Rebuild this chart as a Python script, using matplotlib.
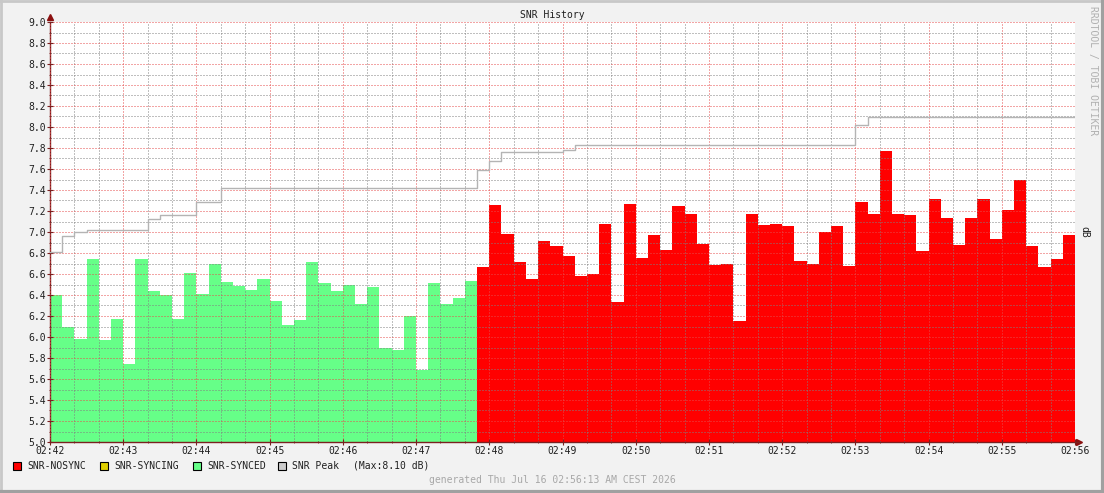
import matplotlib
matplotlib.use("Agg")
import matplotlib.pyplot as plt
import matplotlib.dates as mdates
from matplotlib.patches import Rectangle
from matplotlib.lines import Line2D
import pandas as pd

# SNR samples (10 s steps)
synced_snr = [6.40, 6.10, 5.98, 6.74, 5.97, 6.17, 5.74, 6.74, 6.44, 6.40,
              6.17, 6.61, 6.41, 6.70, 6.52, 6.49, 6.45, 6.55, 6.34, 6.11,
              6.16, 6.71, 6.51, 6.44, 6.50, 6.31, 6.48, 5.90, 5.88, 6.20,
              5.69, 6.51, 6.31, 6.37, 6.53]
nosync_snr = [6.67, 7.26, 6.98, 6.71, 6.55, 6.91, 6.87, 6.77, 6.58, 6.60,
              7.08, 6.33, 7.27, 6.75, 6.97, 6.83, 7.25, 7.17, 6.89, 6.69,
              6.70, 6.15, 7.17, 7.07, 7.08, 7.06, 6.72, 6.70, 7.00, 7.06,
              6.68, 7.29, 7.17, 7.77, 7.17, 7.16, 6.82, 7.31, 7.13, 6.88,
              7.13, 7.31, 6.93, 7.21, 7.50, 6.87, 6.67, 6.74, 6.97]
peak_snr = [6.81, 6.96, 7.00, 7.02, 7.02, 7.02, 7.02, 7.02, 7.12, 7.16,
            7.16, 7.16, 7.29, 7.29, 7.42, 7.42, 7.42, 7.42, 7.42, 7.42,
            7.42, 7.42, 7.42, 7.42, 7.42, 7.42, 7.42, 7.42, 7.42, 7.42,
            7.42, 7.42, 7.42, 7.42, 7.42, 7.59, 7.68, 7.76, 7.76, 7.76,
            7.76, 7.76, 7.78, 7.83, 7.83, 7.83, 7.83, 7.83, 7.83, 7.83,
            7.83, 7.83, 7.83, 7.83, 7.83, 7.83, 7.83, 7.83, 7.83, 7.83,
            7.83, 7.83, 7.83, 7.83, 7.83, 7.83, 8.02, 8.10, 8.10, 8.10,
            8.10, 8.10, 8.10, 8.10, 8.10, 8.10, 8.10, 8.10, 8.10, 8.10,
            8.10, 8.10, 8.10, 8.10]
legend_labels = ["SNR-NOSYNC", "SNR-SYNCING", "SNR-SYNCED", "SNR Peak"]
legend_colors = ["#ff0000", "#e0d000", "#66ff88", "#cccccc"]

start = pd.Timestamp("2026-07-16 02:42:00")
end = pd.Timestamp("2026-07-16 02:56:00")
n_sync = len(synced_snr)
n = n_sync + len(nosync_snr)
times = mdates.date2num(pd.date_range(start, periods=n + 1, freq="10s"))

plt.rcParams['font.family'] = ['DejaVu Sans Mono']
plt.rcParams['font.size'] = 7

fig = plt.figure(figsize=(11.04, 4.93), dpi=100)
fig.patch.set_facecolor('#f2f2f2')
W, H = 1104, 493

# 3d-ish frame like rrdtool
fig.add_artist(Line2D([0, 1], [1 - 1 / H, 1 - 1 / H], color='#c8c8c8', lw=2))
fig.add_artist(Line2D([1 / W, 1 / W], [0, 1], color='#c8c8c8', lw=2))
fig.add_artist(Line2D([0, 1], [1 / H, 1 / H], color='#a0a0a0', lw=3))
fig.add_artist(Line2D([1 - 1 / W, 1 - 1 / W], [0, 1], color='#a0a0a0', lw=3))

ax = fig.add_axes([50 / W, 1 - 442 / H, 1025 / W, 420 / H])
ax.set_facecolor('white')

# stacked-area style like rrdtool AREA
ax.fill_between(times[:n_sync + 1], 5, synced_snr + [synced_snr[-1]], step='post',
                color='#66ff88', lw=0, zorder=1)
ax.fill_between(times[n_sync:], 5, nosync_snr + [nosync_snr[-1]], step='post',
                color='#ff0000', lw=0, zorder=1)
ax.step(times, peak_snr + [peak_snr[-1]], where='post', color='#b4b4b4', lw=1, zorder=3)

ax.set_xlim(mdates.date2num(start), mdates.date2num(end))
ax.set_ylim(5.0, 9.0)

ax.xaxis.set_major_locator(mdates.MinuteLocator())
ax.xaxis.set_minor_locator(mdates.SecondLocator(bysecond=[20, 40]))
ax.xaxis.set_major_formatter(mdates.DateFormatter('%H:%M'))
ax.yaxis.set_major_locator(plt.MultipleLocator(0.2))
ax.yaxis.set_minor_locator(plt.MultipleLocator(0.1))
ax.yaxis.set_major_formatter(plt.FormatStrFormatter('%.1f'))

ax.grid(which='major', linestyle=(0, (1, 2)), color=(0.9, 0.3, 0.3, 0.32), lw=0.72, zorder=2)
ax.grid(which='minor', linestyle=(0, (1, 2)), color=(0.5, 0.5, 0.5, 0.22), lw=0.72, zorder=2)
ax.set_axisbelow(False)

for s in ['top', 'right']:
    ax.spines[s].set_visible(False)
for s in ['left', 'bottom']:
    ax.spines[s].set_color('#7a2020')
    ax.spines[s].set_linewidth(1)
ax.tick_params(which='major', direction='inout', length=4, color='#7a2020',
               labelcolor='#202020', labelsize=7, pad=1)
ax.tick_params(which='minor', direction='inout', length=2, color='#7a2020')

# arrows at axis ends
ax.plot([0], [1.012], marker='^', ms=4, color='#8b1010', transform=ax.transAxes, clip_on=False)
ax.plot([1.004], [0], marker='>', ms=4, color='#8b1010', transform=ax.transAxes, clip_on=False)
ax.plot([1.0, 1.004], [0, 0], color='#7a2020', lw=1, transform=ax.transAxes, clip_on=False)

ax.yaxis.set_label_position('right')
ax.set_ylabel('dB', rotation=-90, labelpad=10, color='#202020')

fig.text(0.5, 1 - 15 / H, 'SNR History', ha='center', va='center', color='#202020')
fig.text(1093 / W, 1 - 71 / H, 'RRDTOOL / TOBI OETIKER', rotation=-90, ha='center',
         va='center', color='#b0b0b0')
fig.text(0.5, 1 - 480 / H, 'generated Thu Jul 16 02:56:13 AM CEST 2026', ha='center',
         va='center', color='#a8a8a8')

# legend row
box_x = [13, 100, 193, 278]
for bx, lab, col in zip(box_x, legend_labels, legend_colors):
    fig.add_artist(Rectangle((bx / W, 1 - 470 / H), 8 / W, 8 / H, facecolor=col,
                             edgecolor='black', lw=0.8))
    fig.text((bx + 14) / W, 1 - 466 / H, lab, ha='left', va='center', color='#202020')
fig.text(353 / W, 1 - 466 / H, '(Max:%.2f dB)' % max(peak_snr), ha='left', va='center',
         color='#202020')

fig.savefig('out.png', dpi=100, facecolor=fig.get_facecolor())
